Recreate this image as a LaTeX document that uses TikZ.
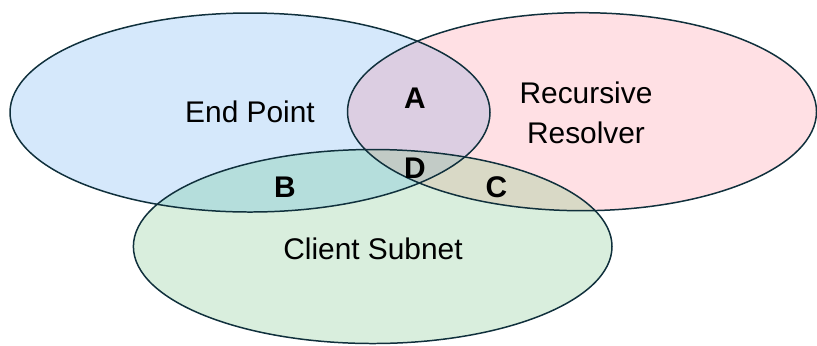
\documentclass[tikz,border=0pt]{standalone}
\usepackage{fontspec}
\setmainfont{Liberation Sans}

\definecolor{rimcol}{HTML}{10303C}
\definecolor{epblue}{HTML}{D5E8FB}
\definecolor{rrpink}{HTML}{FFE0E4}
\definecolor{csgreen}{HTML}{D9EEDD}
\definecolor{regA}{HTML}{DCCEE2}
\definecolor{regB}{HTML}{B5DEDC}
\definecolor{regC}{HTML}{D9D9C6}
\definecolor{regD}{HTML}{C2CBC6}

\begin{document}
\begin{tikzpicture}[scale=0.2]
    \tikzstyle{every node}+=[inner sep=0pt]
    \tikzstyle{rim}=[draw=rimcol, line width=0.85pt]
    \tikzstyle{setname}=[font=\fontsize{17}{22.7}\selectfont, align=center]
    \tikzstyle{region}=[font=\fontsize{17}{22.7}\selectfont\bfseries]
    \useasboundingbox (0,0) rectangle (81.7,-34.5);
    % the three sets
    \fill [epblue] (25,-11.25) ellipse (24 and 9.95);
    \fill [rrpink] (58.2,-11.17) ellipse (23.45 and 9.9);
    \fill [csgreen] (37.27,-24.65) ellipse (23.93 and 9.7);
    % overlaps
    \begin{scope}
    \clip (58.2,-11.17) ellipse (23.45 and 9.9);
    \fill [regC] (37.27,-24.65) ellipse (23.93 and 9.7);
    \end{scope}
    \begin{scope}
    \clip (25,-11.25) ellipse (24 and 9.95);
    \fill [regA] (58.2,-11.17) ellipse (23.45 and 9.9);
    \fill [regB] (37.27,-24.65) ellipse (23.93 and 9.7);
    \clip (58.2,-11.17) ellipse (23.45 and 9.9);
    \fill [regD] (37.27,-24.65) ellipse (23.93 and 9.7);
    \end{scope}
    % outlines
    \draw [rim] (25,-11.25) ellipse (24 and 9.95);
    \draw [rim] (58.2,-11.17) ellipse (23.45 and 9.9);
    \draw [rim] (37.27,-24.65) ellipse (23.93 and 9.7);
    % labels
    \draw (25,-11.2) node [setname] (endpoint) {End Point};
    \draw (58.6,-11.25) node [setname] (resolver) {Recursive\\Resolver};
    \draw (37.3,-24.9) node [setname] (subnet) {Client Subnet};
    \draw (41.5,-9.85) node [region] (regionA) {A};
    \draw (28.5,-18.7) node [region] (regionB) {B};
    \draw (49.65,-18.7) node [region] (regionC) {C};
    \draw (41.5,-16.8) node [region] (regionD) {D};
\end{tikzpicture}
\end{document}
